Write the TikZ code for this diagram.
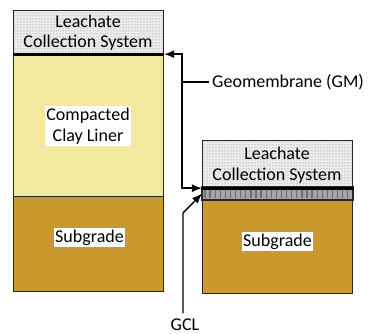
\documentclass[tikz,border=0pt]{standalone}
\usepackage{fontspec}
\setmainfont{Carlito}
\usetikzlibrary{arrows.meta,patterns}
\definecolor{clay}{RGB}{243,233,158}
\definecolor{subg}{RGB}{201,153,46}
\definecolor{lcsfill}{RGB}{236,236,236}
\definecolor{gclfill}{RGB}{165,165,165}
\definecolor{gclstripe}{RGB}{110,110,110}
\begin{document}
\begin{tikzpicture}[x=1pt,y=1pt,
  box/.style={draw=black!85, line width=1.2pt, rectangle, anchor=north west, minimum width=150pt, inner sep=0pt},
  lcs/.style={box, fill=lcsfill, postaction={pattern=dots, pattern color=gray}},
  lbl/.style={font=\fontsize{18}{20.5}\selectfont, align=center, inner xsep=1.5pt, inner ysep=2pt, text=black},
  gmline/.style={line width=2.8pt, black},
  conn/.style={line width=1.4pt, black, -{Latex[length=10pt,width=8pt]}},
  plain/.style={line width=1.4pt, black}]
\useasboundingbox (0,0) rectangle (368,334);
% left column
\node[lcs, minimum height=43pt] (lcsL) at (13,324) {};
\node[box, fill=clay, minimum height=143pt] (clayL) at (13,281) {};
\node[box, fill=subg, minimum height=95pt] (subL) at (13,138) {};
% right column
\node[lcs, minimum height=47pt] (lcsR) at (202,194) {};
\node[box, fill=gclfill, minimum height=12pt] (gclR) at (202,147) {};
\node[box, fill=subg, minimum height=94pt] (subR) at (202,135) {};
% GCL stripes
\foreach \i in {0,...,28} {
  \draw[gclstripe, line width=1.3pt] (205+\i*5.1,135.6) -- (205+\i*5.1,146.4);
}
\draw[black!85, line width=1.2pt] (gclR.south west) rectangle (gclR.north east);
% geomembranes
\draw[gmline] (lcsL.south west) -- (lcsL.south east);
\draw[gmline] (lcsR.south west) -- ([xshift=1pt]lcsR.south east);
% texts
\node[lbl] (tLcsL) at (88,301.5) {Leachate\\Collection System};
\node[lbl, fill=white] (tClay) at (88,208) {Compacted\\Clay Liner};
\node[lbl, fill=white] (tSubL) at (89.5,96.5) {Subgrade};
\node[lbl] (tLcsR) at (277,169) {Leachate\\Collection System};
\node[lbl, fill=white] (tSubR) at (277.5,92.5) {Subgrade};
% labels
\node[lbl, anchor=west, inner xsep=3pt] (gm) at (209,252) {Geomembrane (GM)};
\node[lbl, inner sep=0pt] (gcl) at (185,9.5) {GCL};
% connectors
\coordinate (jn) at (182,252);
\draw[plain] (gm.west) -- (jn);
\draw[conn] (jn) |- (lcsL.south east);
\draw[conn] (jn) |- (lcsR.south west);
\coordinate (gclBend) at (183,121);
\draw[conn] ([xshift=-2pt,yshift=5pt]gcl.north) -- (gclBend) -- (gclR.west);
\end{tikzpicture}
\end{document}
